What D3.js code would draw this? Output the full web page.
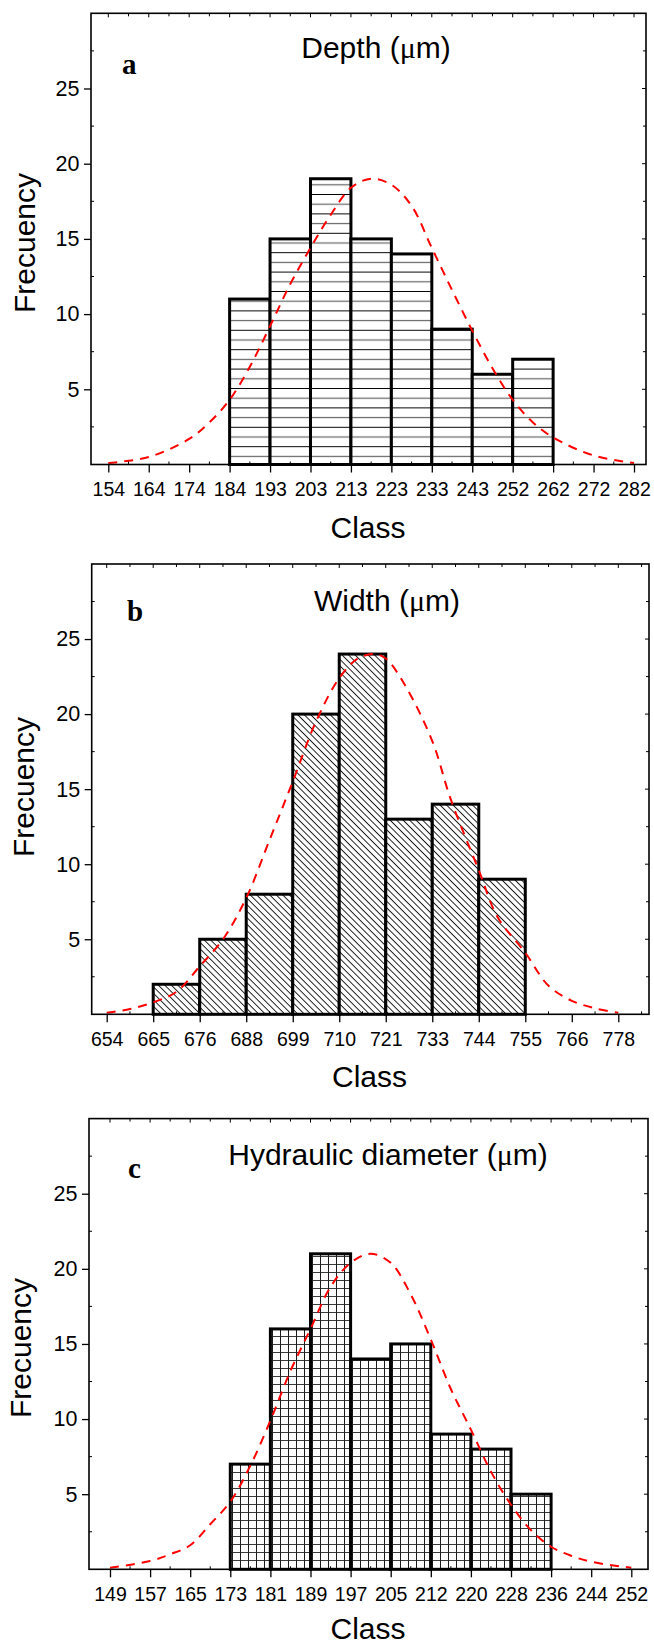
<!DOCTYPE html>
<html><head><meta charset="utf-8">
<script src="https://cdn.jsdelivr.net/npm/d3@7"></script>
<style>
body{margin:0;background:#fff}
svg{display:block}
text{font-family:"Liberation Sans",Arial,sans-serif;fill:#000}
text.letter{font-family:"Liberation Serif","Times New Roman",serif;font-weight:bold}
</style>
</head><body>
<svg id="chart" width="654" height="1645"></svg>
<script>
// ---------------- DATA ----------------
// Panel a : Depth
const depthTicks   = ["154","164","174","184","193","203","213","223","233","243","252","262","272","282"];
const depthClasses = ["184","193","203","213","223","233","243","252"];
const depthFreq    = [11,15,19,15,14,9,6,7];
// fitted normal curve: position in class-tick units, frequency
const depthFitX = [0,1,2,2.5,3,3.5,4,4.5,5,5.5,6,6.5,7,7.5,8,8.5,9,9.5,10,10.5,11,12,13];
const depthFitY = [0.1,0.5,1.7,2.8,4.3,6.5,9.2,12.0,14.4,16.6,18.4,19.0,18.6,17.2,14.4,11.6,8.9,6.4,4.3,2.8,1.8,0.6,0.1];

// Panel b : Width
const widthTicks   = ["654","665","676","688","699","710","721","733","744","755","766","778"];
const widthClasses = ["665","676","688","699","710","721","733","744"];
const widthFreq    = [2,5,8,20,24,13,14,9];
const widthFitX = [0,0.5,1,1.5,2,2.5,3,3.5,4,4.5,5,5.4,5.75,6,6.4,7,7.4,8,8.4,9,9.5,10,10.5,11];
const widthFitY = [0.1,0.35,0.8,1.5,3.2,5.0,7.75,11.6,15.5,19.5,22.4,23.7,24.0,23.7,22.0,18.2,14.3,9.6,6.5,4.1,1.9,0.9,0.4,0.1];

// Panel c : Hydraulic diameter
const hydTicks   = ["149","157","165","173","181","189","197","205","212","220","228","236","244","252"];
const hydClasses = ["173","181","189","197","205","212","220","228"];
const hydFreq    = [7,16,21,14,15,9,8,5];
const hydFitX = [0,1,1.5,2,2.5,3,3.5,4,4.5,5,5.5,6,6.5,7,7.5,8,8.5,9,9.5,10,10.5,11,11.5,12,13];
const hydFitY = [0.1,0.55,1.0,1.6,3.0,4.5,6.9,9.9,13.2,16.0,18.8,20.4,21.0,20.4,18.3,15.3,12.0,9.3,6.5,4.3,2.6,1.5,0.9,0.5,0.1];

const yTicks = [5,10,15,20,25];
const yMax = 30;

// ---------------- LAYOUT ----------------
const panels = [
  {ticks:depthTicks, classes:depthClasses, freq:depthFreq, fx:depthFitX, fy:depthFitY,
   title:"Depth", letter:"a", pat:"hz",
   L:91, R:646, T:13.3, B:464.5, x0:108.3, x1:634,
   titleX:376, titleY:58, letterX:122, letterY:74, classX:368, classY:538, freqX:35, freqY:243},
  {ticks:widthTicks, classes:widthClasses, freq:widthFreq, fx:widthFitX, fy:widthFitY,
   title:"Width", letter:"b", pat:"diag",
   L:91.7, R:649, T:564, B:1014.3, x0:106.7, x1:618.3,
   titleX:387, titleY:611, letterX:127, letterY:621, classX:369.5, classY:1087, freqX:34, freqY:787},
  {ticks:hydTicks, classes:hydClasses, freq:hydFreq, fx:hydFitX, fy:hydFitY,
   title:"Hydraulic diameter", letter:"c", pat:"grid",
   L:89, R:648, T:1118.6, B:1569.3, x0:110, x1:631.3,
   titleX:388, titleY:1165, letterX:128, letterY:1178, classX:368, classY:1639, freqX:31, freqY:1348}
];

const svg = d3.select("#chart");
const defs = svg.append("defs");

// horizontal lines pattern
const hz = defs.append("pattern").attr("id","hz").attr("patternUnits","userSpaceOnUse")
  .attr("width",10).attr("height",19.4);
hz.append("rect").attr("width",10).attr("height",19.4).attr("fill","#fff");
hz.append("line").attr("x1",0).attr("x2",10).attr("y1",0.5).attr("y2",0.5).attr("stroke","#000").attr("stroke-width",1);
hz.append("line").attr("x1",0).attr("x2",10).attr("y1",10.2).attr("y2",10.2).attr("stroke","#666").attr("stroke-width",1.2);

// diagonal "\" pattern
const dg = defs.append("pattern").attr("id","diag").attr("patternUnits","userSpaceOnUse")
  .attr("width",10).attr("height",4.6).attr("patternTransform","rotate(45)");
dg.append("rect").attr("width",10).attr("height",4.6).attr("fill","#fff");
dg.append("line").attr("x1",0).attr("x2",10).attr("y1",0.5).attr("y2",0.5).attr("stroke","#000").attr("stroke-width",0.9);

// grid pattern
const gr = defs.append("pattern").attr("id","grid").attr("patternUnits","userSpaceOnUse")
  .attr("width",8).attr("height",8);
gr.append("rect").attr("width",8).attr("height",8).attr("fill","#fff");
gr.append("line").attr("x1",0.5).attr("x2",0.5).attr("y1",0).attr("y2",8).attr("stroke","#000").attr("stroke-width",0.9);
gr.append("line").attr("x1",0).attr("x2",8).attr("y1",0.5).attr("y2",0.5).attr("stroke","#222").attr("stroke-width",0.9);

panels.forEach(p => {
  const g = svg.append("g");
  const n = p.ticks.length;
  const x = d3.scaleLinear().domain([0, n-1]).range([p.x0, p.x1]);
  const y = d3.scaleLinear().domain([0, yMax]).range([p.B, p.T]);

  // bars
  const bars = p.classes.map((c,i) => ({i0: p.ticks.indexOf(c), v: p.freq[i]}));
  g.selectAll("rect.bar").data(bars).join("rect")
    .attr("class","bar")
    .attr("x", d => x(d.i0))
    .attr("width", d => x(d.i0+1) - x(d.i0))
    .attr("y", d => y(d.v))
    .attr("height", d => y(0) - y(d.v))
    .attr("fill", `url(#${p.pat})`)
    .attr("stroke","#000").attr("stroke-width",3);

  // fitted curve
  const pts = p.fx.map((v,i) => [v, p.fy[i]]);
  g.append("path").datum(pts)
    .attr("d", d3.line().x(d => x(d[0])).y(d => y(d[1])).curve(d3.curveCatmullRom.alpha(0.5)))
    .attr("fill","none").attr("stroke","#ff0000").attr("stroke-width",2)
    .attr("stroke-dasharray","9,7");

  // frame
  g.append("rect").attr("x",p.L).attr("y",p.T).attr("width",p.R-p.L).attr("height",p.B-p.T)
    .attr("fill","none").attr("stroke","#000").attr("stroke-width",1.6);

  // bottom axis
  const xa = g.append("g").attr("transform",`translate(0,${p.B})`)
    .call(d3.axisBottom(x).tickValues(d3.range(n)).tickFormat(i => p.ticks[i]).tickSize(8).tickPadding(9.5));
  xa.attr("font-size", 19.5);
  xa.select(".domain").remove();
  xa.selectAll("line").attr("stroke","#000").attr("stroke-width",1.3);
  xa.selectAll("text").attr("font-size", 19.5).attr("fill","#000");

  // left axis
  const ya = g.append("g").attr("transform",`translate(${p.L},0)`)
    .call(d3.axisLeft(y).tickValues(yTicks).tickSize(7).tickPadding(4.5));
  ya.attr("font-size", 21.5);
  ya.select(".domain").remove();
  ya.selectAll("line").attr("stroke","#000").attr("stroke-width",1.3);
  ya.selectAll("text").attr("font-size", 21.5).attr("fill","#000");

  // minor / mirrored ticks
  const halfX = d3.range(-0.5, n-0.5+0.01, 0.5).filter(v => x(v) > p.L+1 && x(v) < p.R-1);
  g.append("g").selectAll("line").data(halfX).join("line")
    .attr("x1", d => x(d)).attr("x2", d => x(d))
    .attr("y1", p.B).attr("y2", d => p.B - (Number.isInteger(d) ? 0 : 3))
    .attr("stroke","#000").attr("stroke-width",1);
  g.append("g").selectAll("line").data(halfX).join("line")
    .attr("x1", d => x(d)).attr("x2", d => x(d))
    .attr("y1", p.T).attr("y2", d => p.T + (Number.isInteger(d) ? 4 : 3))
    .attr("stroke","#000").attr("stroke-width",1);
  const yMinor = d3.range(2.5, yMax, 2.5);
  g.append("g").selectAll("line").data(yMinor).join("line")
    .attr("x1", p.L).attr("x2", d => p.L + (d % 5 === 0 ? 0 : 3))
    .attr("y1", d => y(d)).attr("y2", d => y(d))
    .attr("stroke","#000").attr("stroke-width",1);
  g.append("g").selectAll("line").data(yMinor).join("line")
    .attr("x1", p.R).attr("x2", d => p.R - (d % 5 === 0 ? 4 : 3))
    .attr("y1", d => y(d)).attr("y2", d => y(d))
    .attr("stroke","#000").attr("stroke-width",1);

  // title
  const t = g.append("text").attr("x",p.titleX).attr("y",p.titleY).attr("text-anchor","middle")
    .attr("font-size",30);
  t.append("tspan").text(p.title + " (");
  t.append("tspan").attr("font-family","'Liberation Serif','Times New Roman',serif").text("\u03bc");
  t.append("tspan").text("m)");

  // panel letter
  g.append("text").attr("class","letter").attr("x",p.letterX).attr("y",p.letterY)
    .attr("font-size",29).text(p.letter);

  // axis titles
  g.append("text").attr("x",p.classX).attr("y",p.classY).attr("text-anchor","middle")
    .attr("font-size",30).text("Class");
  g.append("text").attr("transform",`translate(${p.freqX},${p.freqY}) rotate(-90)`)
    .attr("text-anchor","middle").attr("font-size",30).text("Frecuency");
});
</script>
</body></html>
